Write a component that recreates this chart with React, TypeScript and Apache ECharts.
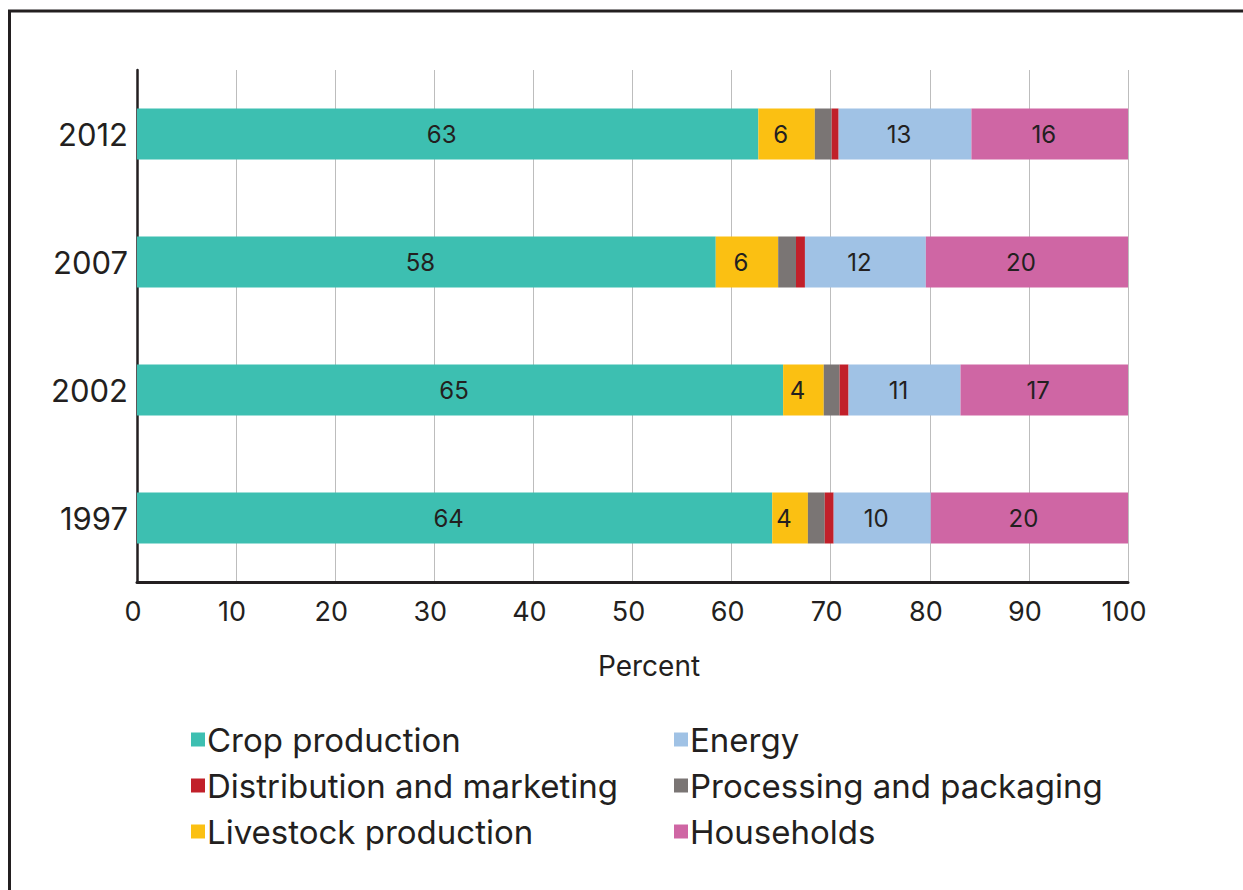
import { useEffect, useRef } from "react";
import * as echarts from "echarts";

// Shares of food-system energy use by stage, in percent of each year's total
const years = ["1997", "2002", "2007", "2012"];
const cropProduction = [64.1, 65.2, 58.4, 62.7];
const livestockProduction = [3.6, 4.1, 6.3, 5.7];
const processingPackaging = [1.7, 1.6, 1.8, 1.7];
const distributionMarketing = [0.9, 0.9, 0.9, 0.7];
const energy = [9.8, 11.3, 12.2, 13.4];
const households = [19.9, 16.9, 20.4, 15.8];

const xTicks = [0, 10, 20, 30, 40, 50, 60, 70, 80, 90, 100];

const INK = "#231F20";
const FONT = "Inter, 'Noto Sans', sans-serif";

const seriesDefs = [
  { name: "Crop production", data: cropProduction, color: "#3DBFB1", label: true },
  { name: "Livestock production", data: livestockProduction, color: "#FBC012", label: true },
  { name: "Processing and packaging", data: processingPackaging, color: "#7A7574", label: false },
  { name: "Distribution and marketing", data: distributionMarketing, color: "#C1202A", label: false },
  { name: "Energy", data: energy, color: "#A0C2E5", label: true },
  { name: "Households", data: households, color: "#CF66A4", label: true },
];

const legendLeft = ["Crop production", "Distribution and marketing", "Livestock production"];
const legendRight = ["Energy", "Processing and packaging", "Households"];

export default function App() {
  const ref = useRef<HTMLDivElement>(null);

  useEffect(() => {
    if (!ref.current) return;
    const chart = echarts.init(ref.current, null, { renderer: "svg" });

    const legendCommon = {
      orient: "vertical" as const,
      top: 718,
      itemWidth: 14,
      itemHeight: 14,
      itemGap: 13,
      icon: "rect",
      textStyle: { color: INK, fontSize: 33, fontFamily: FONT, padding: [0, 0, 0, -3] },
      selectedMode: false,
    };

    chart.setOption({
      animation: false,
      backgroundColor: "#ffffff",
      grid: { left: 137, right: 115, top: 70, bottom: 308, containLabel: false },
      legend: [
        { ...legendCommon, left: 186, data: legendLeft },
        { ...legendCommon, left: 669, data: legendRight },
      ],
      xAxis: {
        type: "value",
        min: xTicks[0],
        max: xTicks[xTicks.length - 1],
        interval: 10,
        name: "Percent",
        nameLocation: "middle",
        nameGap: 70,
        nameTextStyle: { color: INK, fontSize: 28, fontFamily: FONT, padding: [0, 0, 0, 33] },
        axisLine: { show: true, lineStyle: { color: INK, width: 3 } },
        axisTick: { show: false },
        splitLine: { show: true, lineStyle: { color: "#BDBDBD", width: 1 } },
        axisLabel: {
          color: INK,
          fontSize: 27,
          fontFamily: FONT,
          margin: 16,
          padding: [0, 8, 0, 0],
        },
      },
      yAxis: {
        type: "category",
        data: years,
        axisLine: { show: true, lineStyle: { color: INK, width: 2.5 } },
        axisTick: { show: false },
        axisLabel: {
          color: INK,
          fontSize: 31,
          fontFamily: FONT,
          margin: 9,
          padding: [0, 0, 8, 0],
        },
      },
      series: seriesDefs.map((s) => ({
        type: "bar",
        name: s.name,
        stack: "total",
        barWidth: 51,
        data: s.data,
        itemStyle: { color: s.color },
        label: {
          show: s.label,
          position: "inside",
          offset: [-6, 0],
          color: INK,
          fontSize: 24,
          fontFamily: FONT,
          formatter: (p: any) => String(Math.round(p.value)),
        },
      })),
      graphic: [
        {
          type: "polyline",
          silent: true,
          shape: { points: [[9.5, 890], [9.5, 11], [1243, 11]] },
          style: { stroke: INK, lineWidth: 3, fill: "none" },
        },
      ],
    });

    return () => chart.dispose();
  }, []);

  return (
    <div
      ref={ref}
      style={{ position: "fixed", left: 0, top: 0, width: 1243, height: 890, background: "#fff" }}
    />
  );
}
